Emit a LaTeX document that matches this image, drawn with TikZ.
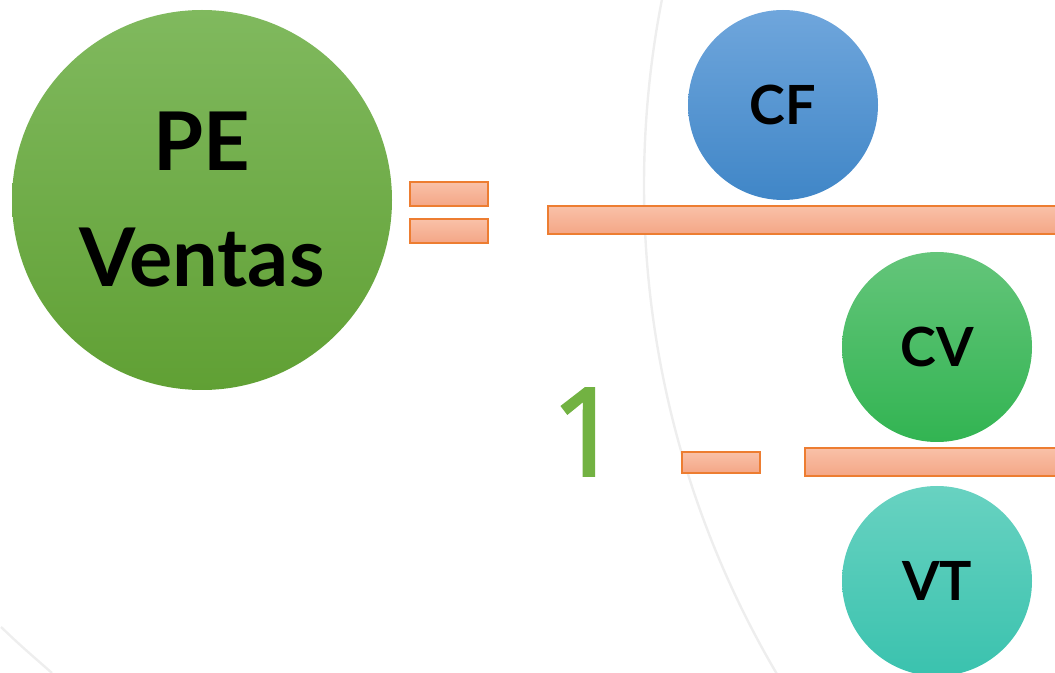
\documentclass[tikz,border=0pt]{standalone}
\usepackage{fontspec}
\setmainfont{Lato}
\newfontfamily\cifra{Open Sans}[FakeBold=2.2]
\usepackage{tikz}
\usetikzlibrary{positioning}

\definecolor{verdePE}{RGB}{128,185,94}
\definecolor{verdePEosc}{RGB}{96,160,52}
\definecolor{azulCF}{RGB}{111,166,220}
\definecolor{azulCFosc}{RGB}{64,134,199}
\definecolor{verdeCV}{RGB}{100,197,122}
\definecolor{verdeCVosc}{RGB}{50,180,82}
\definecolor{turqVT}{RGB}{104,210,193}
\definecolor{turqVTosc}{RGB}{58,194,174}
\definecolor{salmon}{RGB}{249,193,168}
\definecolor{salmonosc}{RGB}{244,166,134}
\definecolor{naranja}{RGB}{237,125,49}
\definecolor{fondo}{RGB}{238,238,238}
\definecolor{uno}{RGB}{114,178,66}

\tikzset{
  bola/.style={circle, inner sep=0pt, font=\bfseries, text=black},
  barra/.style={rectangle, inner sep=0pt, draw=naranja, line width=0.8pt,
    top color=salmon, bottom color=salmonosc}
}

\begin{document}
\begin{tikzpicture}[x=0.5pt, y=-0.5pt]
  \useasboundingbox (0,0) rectangle (1055,673);

  % faint background arcs
  \draw[fondo, line width=1.2pt] (1607,185.5) circle[radius=963];
  \draw[fondo, line width=1.2pt] (1,627) .. controls (20,645) .. (52,673);

  % left side
  \node[bola, minimum size=190pt, top color=verdePE, bottom color=verdePEosc,
    font=\fontsize{40.5}{58}\selectfont\bfseries, align=center] (pe) at (202,200) {PE\\Ventas};

  % equal sign
  \node[barra, minimum width=39pt, minimum height=12pt] (igualA) at (449,194) {};
  \node[barra, minimum width=39pt, minimum height=12pt] (igualB) at (449,231) {};

  % first fraction CF / ...
  \node[bola, minimum size=95pt, top color=azulCF, bottom color=azulCFosc,
    font=\fontsize{27}{30}\selectfont\bfseries] (cf) at (783,105) {CF};
  \node[barra, minimum width=256pt, minimum height=14pt] (fraccion) at (804,220) {};

  % 1 - CV/VT
  \node[text=uno, font=\cifra\fontsize{61}{61}\selectfont] (uno) at (586,432) {1};
  \node[barra, minimum width=39pt, minimum height=10.5pt] (menos) at (721,462.5) {};
  \node[bola, minimum size=95pt, top color=verdeCV, bottom color=verdeCVosc,
    font=\fontsize{27}{30}\selectfont\bfseries] (cv) at (937,347) {CV};
  \node[barra, minimum width=127.5pt, minimum height=14pt] (fraccionB) at (932.5,462) {};
  \node[bola, minimum size=95pt, top color=turqVT, bottom color=turqVTosc,
    font=\fontsize{27}{30}\selectfont\bfseries] (vt) at (937,581) {VT};
\end{tikzpicture}
\end{document}
